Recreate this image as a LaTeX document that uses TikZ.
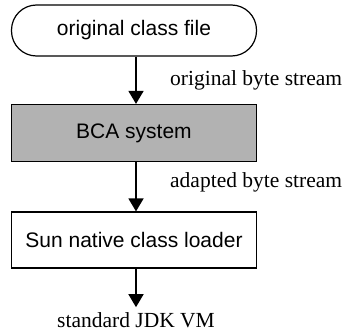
\documentclass[tikz,border=0pt]{standalone}
\usepackage{fontspec}
\setmainfont{Liberation Serif}
\setsansfont{Liberation Sans}
\usetikzlibrary{arrows.meta}

\begin{document}
\begin{tikzpicture}[x=1pt,y=-1pt,
    stagebox/.style={draw,line width=1.2pt,minimum width=245pt,font=\sffamily\fontsize{21}{24}\selectfont},
    flowarrow/.style={line width=1.6pt,-{Triangle[length=13pt,width=15pt]}},
    streamlabel/.style={font=\fontsize{21.5}{24}\selectfont,inner sep=0pt}]
  \useasboundingbox (0,0) rectangle (345,332);
  \node[stagebox,minimum height=51pt,rounded corners=25pt] (orig) at (134,30.5) {original class file};
  \node[stagebox,minimum height=57pt,fill={rgb,255:red,178;green,178;blue,178}] (bca) at (134,133) {BCA system};
  \node[stagebox,minimum height=56pt] (sun) at (134,240) {Sun native class loader};
  \node[streamlabel] (jdk) at (136,320) {standard JDK VM};
  \draw[flowarrow] (orig.south -| jdk) -- (bca.north -| jdk);
  \draw[flowarrow] (bca.south -| jdk) -- (sun.north -| jdk);
  \draw[flowarrow] (sun.south -| jdk) -- ([yshift=5pt]jdk.north);
  \node[streamlabel,anchor=west] (origstream) at (170,80) {original byte stream};
  \node[streamlabel,anchor=west] (adaptstream) at (170,182) {adapted byte stream};
\end{tikzpicture}
\end{document}
